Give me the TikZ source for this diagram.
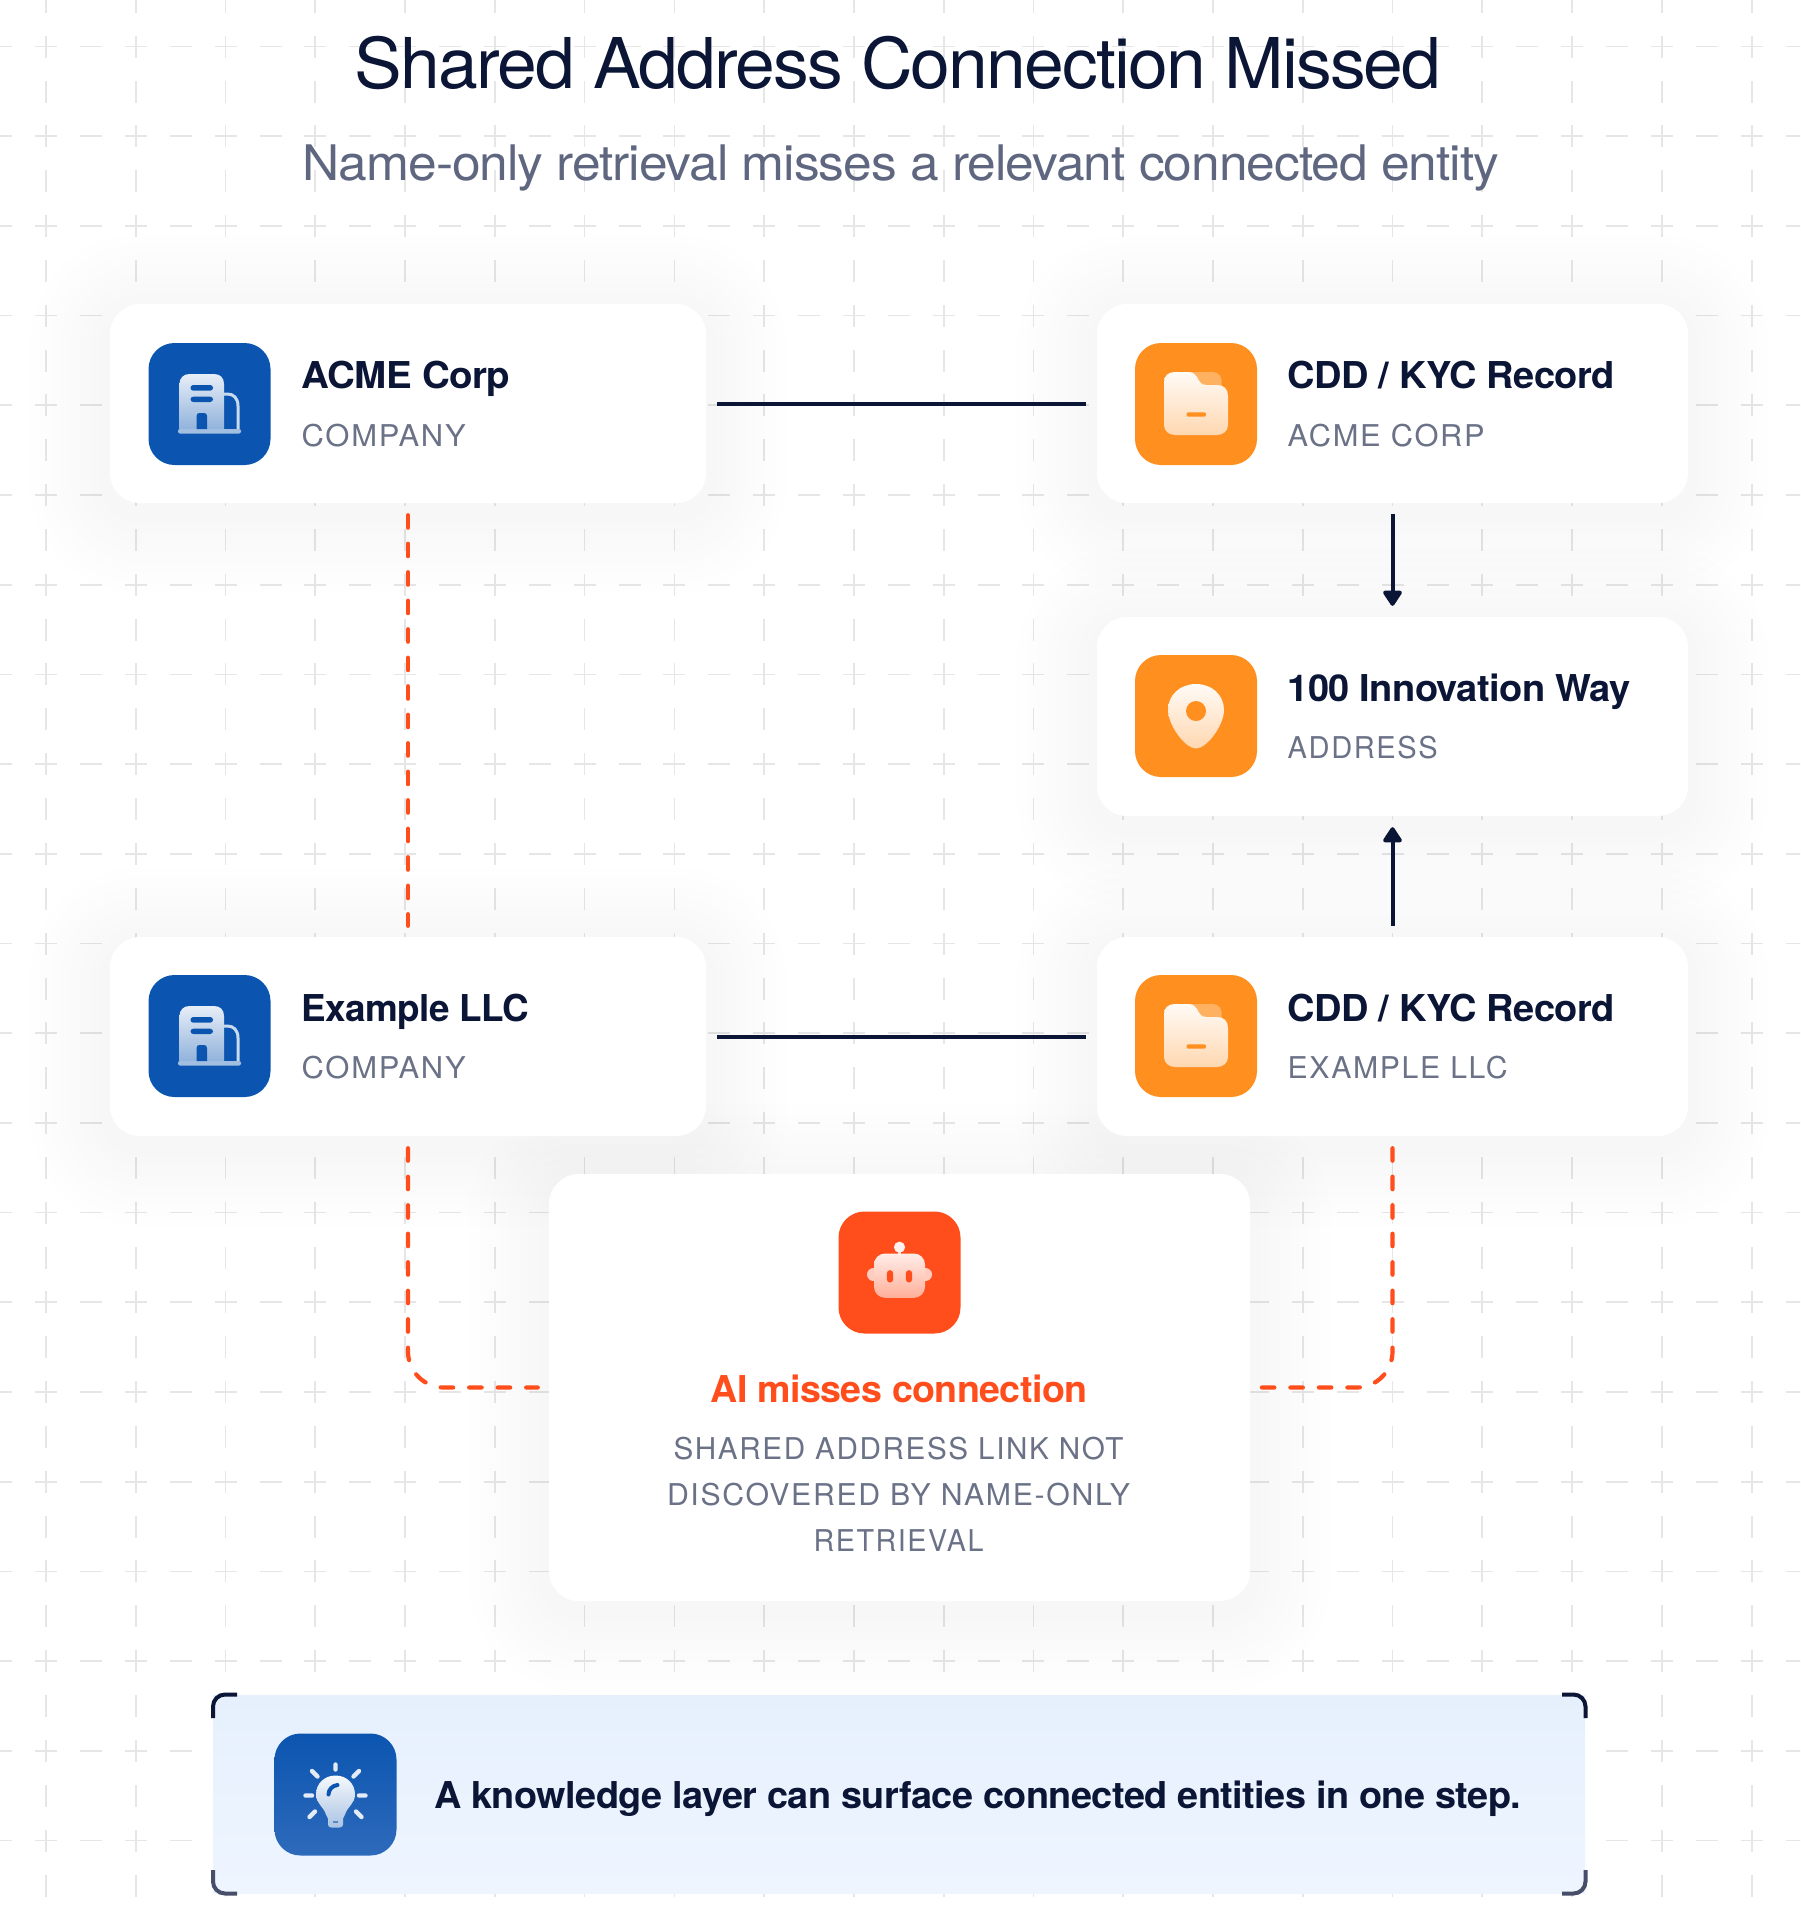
\documentclass[tikz,border=0pt]{standalone}
\usepackage{graphicx}
\usepackage{fontspec}
\setmainfont{TeX Gyre Heros}
\usetikzlibrary{arrows.meta}
\definecolor{navy}{HTML}{0B1536}
\definecolor{subgray}{HTML}{5F6780}
\definecolor{capgray}{HTML}{6B7287}
\definecolor{gridgray}{HTML}{E6E6E6}
\definecolor{iconblue}{HTML}{0B55B0}
\definecolor{iconblueb}{HTML}{2E6ABB}
\definecolor{iconorange}{HTML}{FF8F1F}
\definecolor{iconred}{HTML}{FF4D1C}
\definecolor{bannertop}{HTML}{E6F0FD}
\definecolor{bannerbot}{HTML}{EEF5FF}
\newcommand{\tightbold}{\addfontfeature{LetterSpace=-1.5}}
\tikzset{
  cardbox/.style={rectangle,rounded corners=30pt,fill=white,draw=none,inner sep=0pt},
  iconbox/.style={rectangle,rounded corners=26pt,minimum width=122pt,minimum height=122pt,inner sep=0pt,draw=none},
  titletext/.style={anchor=base west,inner sep=0pt,text=navy,font=\fontsize{37}{37}\selectfont\bfseries},
  captext/.style={anchor=base west,inner sep=0pt,text=capgray,font=\fontsize{30}{30}\selectfont},
  centertext/.style={anchor=base,inner sep=0pt,text=capgray,font=\fontsize{30}{30}\selectfont},
  solidlink/.style={draw=navy,line width=4pt,shorten <=11pt,shorten >=11pt},
  arrowlink/.style={draw=navy,line width=4pt,-{Triangle[length=17pt,width=21pt,round]},shorten <=11pt,shorten >=11pt},
  dashlink/.style={draw=iconred,line width=4.2pt,line cap=round,dash pattern=on 12.5pt off 16pt,shorten <=12pt,shorten >=11pt},
  bracket/.style={line width=4pt,rounded corners=12pt},
}
\newcommand{\softshadow}[4]{%
  \foreach \rr in {10,20,...,80}{%
    \fill[black,opacity=0.004,rounded corners=30+\rr]
      ({#1-#3/2-\rr},{#2-#4/2-\rr+10}) rectangle ({#1+#3/2+\rr},{#2+#4/2+\rr+10});
  }}
\newcommand{\buildingglyph}[2]{%
  \begin{scope}[shift={(#1,#2)}]
    \draw[color=white!78!iconblue,line width=3pt] (14.5,-10) -- (18,-10) .. controls (24,-10) and (28.5,-6) .. (28.5,2) -- (28.5,25);
    \shade[top color=white!90!iconblue,bottom color=white!55!iconblue]
      (-30,25) -- (-30,-20) .. controls (-30,-26) and (-26,-30) .. (-20,-30) -- (4.5,-30) .. controls (11,-30) and (14.5,-26) .. (14.5,-20) -- (14.5,25) -- cycle;
    \fill[white!62!iconblue,rounded corners=2pt] (-31.5,25) rectangle (31.5,29.5);
    \fill[iconblue,rounded corners=2.8pt] (-19,-19) rectangle (3.5,-13.3);
    \fill[iconblue,rounded corners=2.8pt] (-19,-7.3) rectangle (3.5,-2);
    \fill[iconblue] (-13,25) -- (-13,12) .. controls (-13,10) and (-12,9) .. (-10,9) -- (-5.5,9) .. controls (-3.5,9) and (-2.5,10) .. (-2.5,12) -- (-2.5,25) -- cycle;
  \end{scope}}
\newcommand{\folderglyph}[2]{%
  \begin{scope}[shift={(#1,#2)}]
    \fill[white!30!iconorange,rounded corners=9pt] (-21,-32) rectangle (25.7,-5);
    \shade[top color=white!96!iconorange,bottom color=white!65!iconorange]
      (-32,-22) .. controls (-32,-28) and (-28,-32) .. (-21,-32) -- (-8,-32) .. controls (-3,-32) and (-1,-30) .. (1,-27) .. controls (3,-23) and (5,-19) .. (10,-19) -- (21,-19) .. controls (28,-19) and (32,-15) .. (32,-8) -- (32,21) .. controls (32,27) and (27,31) .. (21,31) -- (-21,31) .. controls (-27,31) and (-32,27) .. (-32,21) -- cycle;
    \fill[iconorange,rounded corners=2pt] (-9.5,8.3) rectangle (10,12.7);
  \end{scope}}
\newcommand{\pinglyph}[2]{%
  \begin{scope}[shift={(#1,#2)}]
    \shade[top color=white!96!iconorange,bottom color=white!65!iconorange]
      (0,-32) .. controls (16,-32) and (28,-21) .. (28,-6) .. controls (28,9) and (11,32.5) .. (0,32.5) .. controls (-11,32.5) and (-28,9) .. (-28,-6) .. controls (-28,-21) and (-16,-32) .. (0,-32) -- cycle;
    \fill[iconorange] (0,-5) circle[radius=10];
  \end{scope}}
\newcommand{\robotglyph}[2]{%
  \begin{scope}[shift={(#1,#2)}]
    \fill[white!92!iconred] (0,-25.3) circle[radius=5.6];
    \fill[white!85!iconred] (-1.5,-21) rectangle (1.5,-17);
    \fill[white!72!iconred] (-26,2) circle[radius=6.5];
    \fill[white!72!iconred] (26,2) circle[radius=6.5];
    \shade[top color=white!90!iconred,bottom color=white!55!iconred,rounded corners=11pt] (-25.5,-19) rectangle (25.5,25.3);
    \fill[iconred,rounded corners=3pt] (-12.6,-2.3) rectangle (-6.4,10);
    \fill[iconred,rounded corners=3pt] (6.4,-2.3) rectangle (12.6,10);
  \end{scope}}
\newcommand{\bulbglyph}[2]{%
  \begin{scope}[shift={(#1,#2)}]
    \draw[white!88!iconblue,line width=4.4pt,line cap=round]
      (0,-30) -- (0,-25) (18,-18) -- (23.5,-23.5) (23.5,1) -- (30,1) (20.5,17) -- (26,22.5)
      (-20.5,17) -- (-26,22.5) (-23.5,1) -- (-30,1) (-18,-18) -- (-23.5,-23.5);
    \shade[top color=white!96!iconblue,bottom color=white!65!iconblue]
      (0,-19) .. controls (11,-19) and (19.5,-11) .. (19.5,0) .. controls (19.5,9) and (12,12) .. (9.5,20) -- (7.5,24) -- (7.5,30)
      .. controls (7.5,32) and (6,33) .. (4,33) -- (-4,33) .. controls (-6,33) and (-7.5,32) .. (-7.5,30) -- (-7.5,24) -- (-9.5,20)
      .. controls (-12,12) and (-19.5,9) .. (-19.5,0) .. controls (-19.5,-11) and (-11,-19) .. (0,-19) -- cycle;
    \draw[iconblue,line width=4pt,line cap=round] (-7,0) .. controls (-7,-5) and (-3,-9) .. (2,-9.5);
    \draw[iconblue!70!white,line width=1.5pt] (-2.5,27.5) -- (2.5,27.5);
  \end{scope}}
\begin{document}
\begin{tikzpicture}[x=1pt,y=-1pt]
\useasboundingbox (0,0) rectangle (1800,1917);
\fill[white] (0,0) rectangle (1800,1917);
% background grid
\begin{scope}
\clip (0,0) rectangle (1800,1917);
\foreach \i in {-1,0,...,20}{
  \foreach \j in {-1,0,...,21}{
    \pgfmathsetmacro{\gx}{46+89.77*\i}
    \pgfmathsetmacro{\gy}{46.5+89.7*\j}
    \draw[gridgray,line width=1.7pt]
      ({\gx-11},\gy) -- ({\gx+11},\gy) (\gx,{\gy-11}) -- (\gx,{\gy+11})
      ({\gx+34},\gy) -- ({\gx+56},\gy) (\gx,{\gy+34}) -- (\gx,{\gy+56});
  }
}
\end{scope}
% shadows
\softshadow{408}{403.5}{596}{199}
\softshadow{1392.5}{403.5}{591}{199}
\softshadow{1392.5}{716.5}{591}{199}
\softshadow{408}{1036.5}{596}{199}
\softshadow{1392.5}{1036.5}{591}{199}
\softshadow{899.5}{1387.5}{701}{427}
% headings
\node[anchor=base,inner sep=0pt,text=navy] (title) at (898,88)
  {\resizebox{1087pt}{\height}{\fontsize{70}{70}\selectfont\addfontfeature{LetterSpace=-2.5}Shared Address Connection Missed}};
\node[anchor=base,inner sep=0pt,text=subgray] (subtitle) at (901,180)
  {\resizebox{1196pt}{\height}{\fontsize{49}{49}\selectfont\addfontfeature{LetterSpace=-2}Name-only retrieval misses a relevant connected entity}};
% cards
\node[cardbox,minimum width=596pt,minimum height=199pt] (acme) at (408,403.5) {};
\node[cardbox,minimum width=591pt,minimum height=199pt] (cddA) at (1392.5,403.5) {};
\node[cardbox,minimum width=591pt,minimum height=199pt] (addr) at (1392.5,716.5) {};
\node[cardbox,minimum width=596pt,minimum height=199pt] (example) at (408,1036.5) {};
\node[cardbox,minimum width=591pt,minimum height=199pt] (cddB) at (1392.5,1036.5) {};
\node[cardbox,minimum width=701pt,minimum height=427pt] (ai) at (899.5,1387.5) {};
% connectors
\draw[solidlink] (acme) -- (cddA);
\draw[solidlink] (example) -- (cddB);
\draw[arrowlink] (cddA) -- (addr);
\draw[arrowlink] (cddB) -- (addr);
\draw[dashlink] (acme) -- (example);
\draw[dashlink,rounded corners=36pt] (example.south) |- (ai.west);
\draw[dashlink,rounded corners=36pt] (cddB.south) |- (ai.east);
% icons
\node[iconbox,fill=iconblue] (iconAcme) at (209.5,404) {};
\buildingglyph{209.5}{404}
\node[iconbox,fill=iconorange] (iconCddA) at (1196,404) {};
\folderglyph{1196}{404}
\node[iconbox,fill=iconorange] (iconAddr) at (1196,716) {};
\pinglyph{1196}{716}
\node[iconbox,fill=iconblue] (iconExample) at (209.5,1036) {};
\buildingglyph{209.5}{1036}
\node[iconbox,fill=iconorange] (iconCddB) at (1196,1036) {};
\folderglyph{1196}{1036}
\node[iconbox,fill=iconred] (iconAi) at (899.5,1272.5) {};
\robotglyph{899.5}{1272.5}
% card texts
\node[titletext] (t1) at (301.5,388) {\resizebox{208.5pt}{\height}{\tightbold ACME Corp}};
\node[captext] (c1) at (301.5,446) {\resizebox{164pt}{\height}{\addfontfeature{LetterSpace=5.5}COMPANY}};
\node[titletext] (t2) at (1287.5,388) {\resizebox{327pt}{\height}{\tightbold CDD / KYC Record}};
\node[captext] (c2) at (1287.5,446) {\resizebox{197pt}{\height}{\addfontfeature{LetterSpace=5.5}ACME CORP}};
\node[titletext] (t3) at (1287.5,701) {\resizebox{343pt}{\height}{\tightbold 100 Innovation Way}};
\node[captext] (c3) at (1287.5,758.5) {\resizebox{150pt}{\height}{\addfontfeature{LetterSpace=5.5}ADDRESS}};
\node[titletext] (t4) at (301.5,1021) {\resizebox{227.5pt}{\height}{\tightbold Example LLC}};
\node[captext] (c4) at (301.5,1078.5) {\resizebox{164pt}{\height}{\addfontfeature{LetterSpace=5.5}COMPANY}};
\node[titletext] (t5) at (1287.5,1021) {\resizebox{327pt}{\height}{\tightbold CDD / KYC Record}};
\node[captext] (c5) at (1287.5,1078.5) {\resizebox{220pt}{\height}{\addfontfeature{LetterSpace=5.5}EXAMPLE LLC}};
% AI card texts
\node[anchor=base,inner sep=0pt,text=iconred,font=\fontsize{37}{37}\selectfont\bfseries] (aiT) at (899,1402)
  {\resizebox{377pt}{\height}{\tightbold AI misses connection}};
\node[centertext] (aiL1) at (898.5,1459) {\resizebox{450pt}{\height}{\addfontfeature{LetterSpace=5.5}SHARED ADDRESS LINK NOT}};
\node[centertext] (aiL2) at (898.5,1505) {\resizebox{463pt}{\height}{\addfontfeature{LetterSpace=5.5}DISCOVERED BY NAME-ONLY}};
\node[centertext] (aiL3) at (898.5,1551) {\resizebox{170pt}{\height}{\addfontfeature{LetterSpace=5.5}RETRIEVAL}};
% banner
\node[rectangle,draw=none,inner sep=0pt,minimum width=1372pt,minimum height=198pt,top color=bannertop,bottom color=bannerbot] (banner) at (899,1794) {};
\draw[bracket,navy] (237,1694.5) -- (213,1694.5) -- (213,1718);
\draw[bracket,navy] (1562,1694.5) -- (1585.5,1694.5) -- (1585.5,1718);
\draw[bracket,color=subgray!70!navy] (237,1893.5) -- (213,1893.5) -- (213,1870);
\draw[bracket,color=subgray!70!navy] (1562,1893.5) -- (1585.5,1893.5) -- (1585.5,1870);
\node[iconbox,top color=iconblue,bottom color=iconblueb] (iconBulb) at (335.5,1794.5) {};
\bulbglyph{335.5}{1794.5}
\node[titletext] (bannerT) at (434,1808) {\resizebox{1087pt}{\height}{\tightbold A knowledge layer can surface connected entities in one step.}};
\end{tikzpicture}
\end{document}
